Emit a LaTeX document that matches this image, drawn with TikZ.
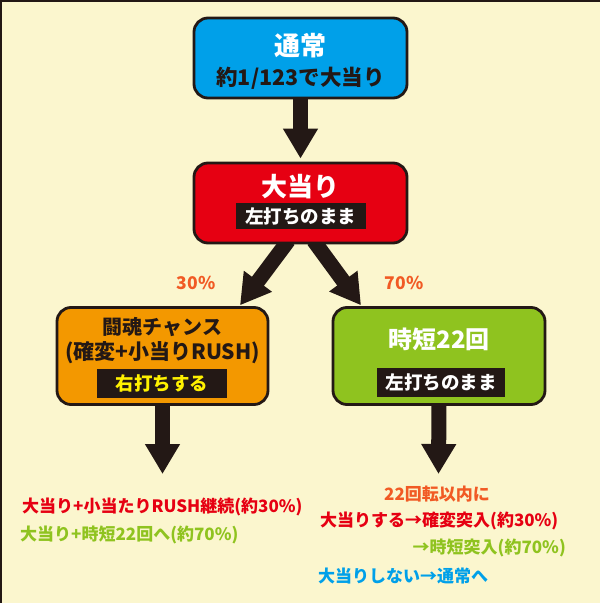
\documentclass[tikz,border=0pt]{standalone}
\usepackage{fontspec}
\setmainfont{Noto Sans CJK JP}
\usetikzlibrary{arrows.meta}
\pgfdeclarelayer{bgfill}
\pgfdeclarelayer{arrows}
\pgfsetlayers{bgfill,arrows,main}
\definecolor{bg}{HTML}{FBF6CE}
\definecolor{ink}{HTML}{231815}
\definecolor{cblue}{HTML}{00A0E9}
\definecolor{cred}{HTML}{E60012}
\definecolor{corange}{HTML}{F39800}
\definecolor{cgreen}{HTML}{8FC31F}
\definecolor{ctxtor}{HTML}{F15A24}
\definecolor{cyel}{HTML}{FFF100}
\tikzset{
  box/.style={draw=ink, line width=2.8pt, rounded corners=14pt, inner sep=0pt},
  lbl/.style={fill=ink, inner sep=0pt, font=\fontsize{18.5}{20}\selectfont\bfseries},
  txt/.style={inner sep=0pt, font=\fontsize{#1}{#1}\selectfont\bfseries},
  bigarrow/.style={draw=ink, line width=15pt, -{Triangle[width=33pt,length=30pt]}},
}
\begin{document}
\begin{tikzpicture}[x=1pt,y=-1pt]
\useasboundingbox (0,0) rectangle (600,603);
\begin{pgfonlayer}{bgfill}
\fill[bg] (0,0) rectangle (600,603);
\draw[ink, line width=2.5pt] (0,1) -- (600,1);
\draw[ink, line width=2.5pt] (1,0) -- (1,603);
\end{pgfonlayer}

% boxes
\node[box, fill=cblue, minimum width=213pt, minimum height=80pt] (top) at (300.5,58) {};
\node[box, fill=cred, minimum width=213pt, minimum height=80pt] (mid) at (300.5,203) {};
\node[box, fill=corange, minimum width=211pt, minimum height=97pt] (left) at (162.5,356) {};
\node[box, fill=cgreen, minimum width=212pt, minimum height=97pt] (right) at (439,356) {};

% free ends
\coordinate (lend) at (162.5,474);
\coordinate (rend) at (438.5,474);

% arrows behind the boxes
\begin{pgfonlayer}{arrows}
\draw[bigarrow, shorten >=3pt] (top.south) -- (mid.north);
\draw[bigarrow, shorten >=1pt] ([xshift=-12pt,yshift=4pt]mid.south) -- ([xshift=-30pt]left.north east);
\draw[bigarrow, shorten >=1pt] ([xshift=13pt,yshift=4pt]mid.south) -- ([xshift=30pt]right.north west);
\draw[bigarrow] ([yshift=1.5pt]left.south) -- (lend);
\draw[bigarrow] ([yshift=1.5pt]right.south) -- (rend);
\end{pgfonlayer}

% texts in boxes
\node[txt=26, text=white] (t1) at (300.5,46) {通常};
\node[txt=21.5, text=ink] (t2) at (300.5,78) {約1/123で大当り};

\node[txt=26, text=white] (m1) at (300.5,187) {大当り};
\node[lbl, text=white, minimum width=130pt, minimum height=26pt] (m2) at (300.5,216) {左打ちのまま};

\node[txt=20, text=ink] (l1) at (162.5,327) {闘魂チャンス};
\node[txt=21, text=ink] (l2) at (162.5,353) {(確変+小当りRUSH)};
\node[lbl, text=cyel, minimum width=130pt, minimum height=29pt] (l3) at (162,383) {右打ちする};

\node[txt=24, text=white] (r1) at (439,339) {時短22回};
\node[lbl, text=white, minimum width=128pt, minimum height=29pt] (r2) at (441,382.5) {左打ちのまま};

% percentages
\node[txt=17.5, text=ctxtor] (p30) at (196,283) {30\%};
\node[txt=17.5, text=ctxtor] (p70) at (404,283) {70\%};

% bottom texts left
\node[txt=17, text=cred, anchor=west] (b1) at (22,507) {大当り+小当たりRUSH継続(約30\%)};
\node[txt=17, text=cgreen, anchor=west] (b2) at (20,535) {大当り+時短22回へ(約70\%)};

% bottom texts right
\node[txt=17, text=ctxtor] (c1) at (437,494) {22回転以内に};
\node[txt=17, text=cred, anchor=west] (c2) at (320,521) {大当りする→確変突入(約30\%)};
\node[txt=17, text=cgreen, anchor=east] (c3) at (566,548) {→時短突入(約70\%)};
\node[txt=17, text=cblue, anchor=west] (c4) at (318,576) {大当りしない→通常へ};
\end{tikzpicture}
\end{document}
